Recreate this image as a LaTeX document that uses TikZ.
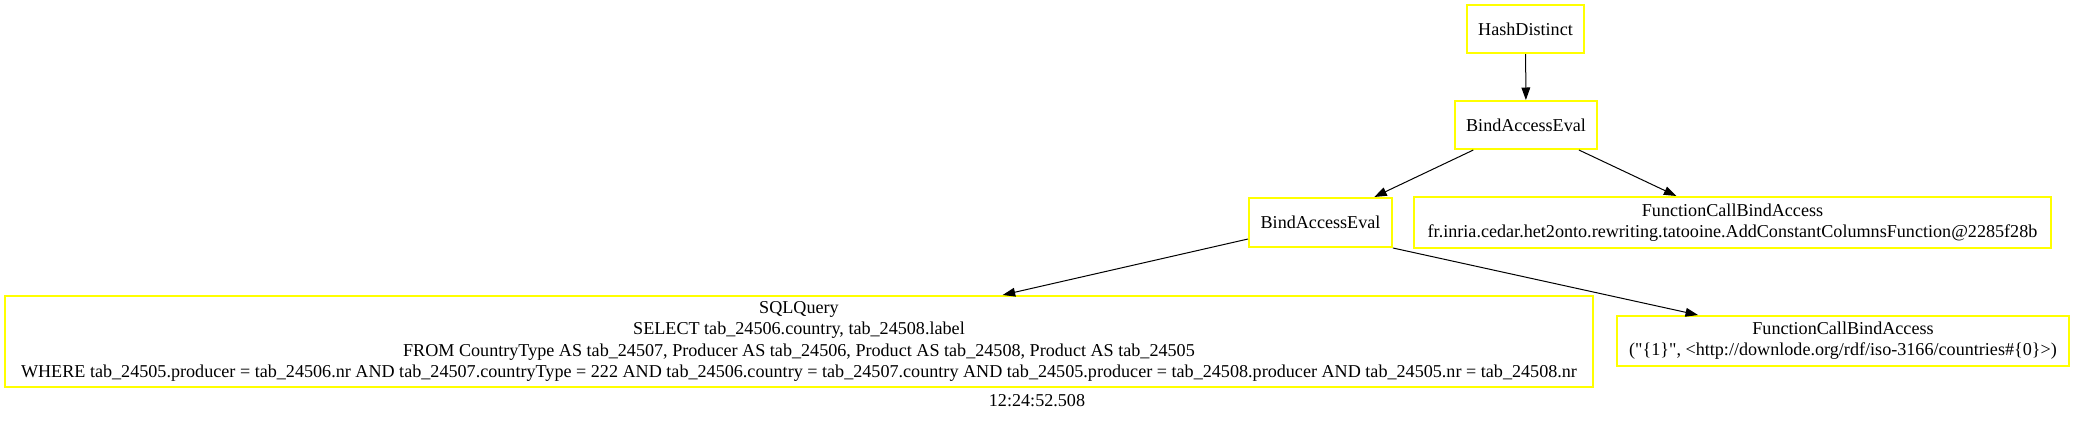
\documentclass[tikz,border=0pt]{standalone}
\usepackage{fontspec}
\setmainfont{Liberation Serif}[Ligatures=TeXOff]
\usetikzlibrary{arrows.meta}
\definecolor{gvyellow}{RGB}{255,255,0}
\tikzset{
  opbox/.style={draw=gvyellow, line width=1.6pt, inner sep=0pt, align=center,
    font=\fontsize{14.5}{17}\selectfont},
  edge/.style={draw=black, line width=0.8pt, -{Triangle[length=10pt,width=7pt]}},
  lbl/.style={inner sep=0pt, font=\fontsize{14.5}{17}\selectfont}
}
\begin{document}
\begin{tikzpicture}[x=0.8pt,y=-0.8pt]
\useasboundingbox (0,0) rectangle (2075,423);
\node[opbox, minimum width=93.6pt, minimum height=38.4pt] (hd) at (1525.5,29) {HashDistinct};
\node[opbox, minimum width=113.6pt, minimum height=38.4pt] (b1) at (1526,125) {BindAccessEval};
\node[opbox, minimum width=114.4pt, minimum height=39.2pt] (b2) at (1320.5,222.5) {BindAccessEval};
\node[opbox, minimum width=509.6pt, minimum height=40.8pt] (f1) at (1732.5,222.5) {FunctionCallBindAccess\\fr.inria.cedar.het2onto.rewriting.tatooine.AddConstantColumnsFunction@2285f28b};
\node[opbox, minimum width=1270.4pt, minimum height=72.8pt] (sql) at (799,341.5) {SQLQuery\\SELECT tab\_24506.country, tab\_24508.label\\FROM CountryType AS tab\_24507, Producer AS tab\_24506, Product AS tab\_24508, Product AS tab\_24505\\WHERE tab\_24505.producer = tab\_24506.nr AND tab\_24507.countryType = 222 AND tab\_24506.country = tab\_24507.country AND tab\_24505.producer = tab\_24508.producer AND tab\_24505.nr = tab\_24508.nr};
\node[opbox, minimum width=361.6pt, minimum height=40pt] (f2) at (1843,341) {FunctionCallBindAccess\\("\{1\}", <http://downlode.org/rdf/iso-3166/countries\#\{0\}>)};
\node[lbl] (time) at (1037,401) {12:24:52.508};
\draw[edge] (hd) -- (b1);
\draw[edge] (b1) -- (b2);
\draw[edge] (b1) -- (f1);
\draw[edge] (b2) -- (sql);
\draw[edge] (b2.south east) -- ([xshift=-116pt]f2.north);
\end{tikzpicture}
\end{document}
